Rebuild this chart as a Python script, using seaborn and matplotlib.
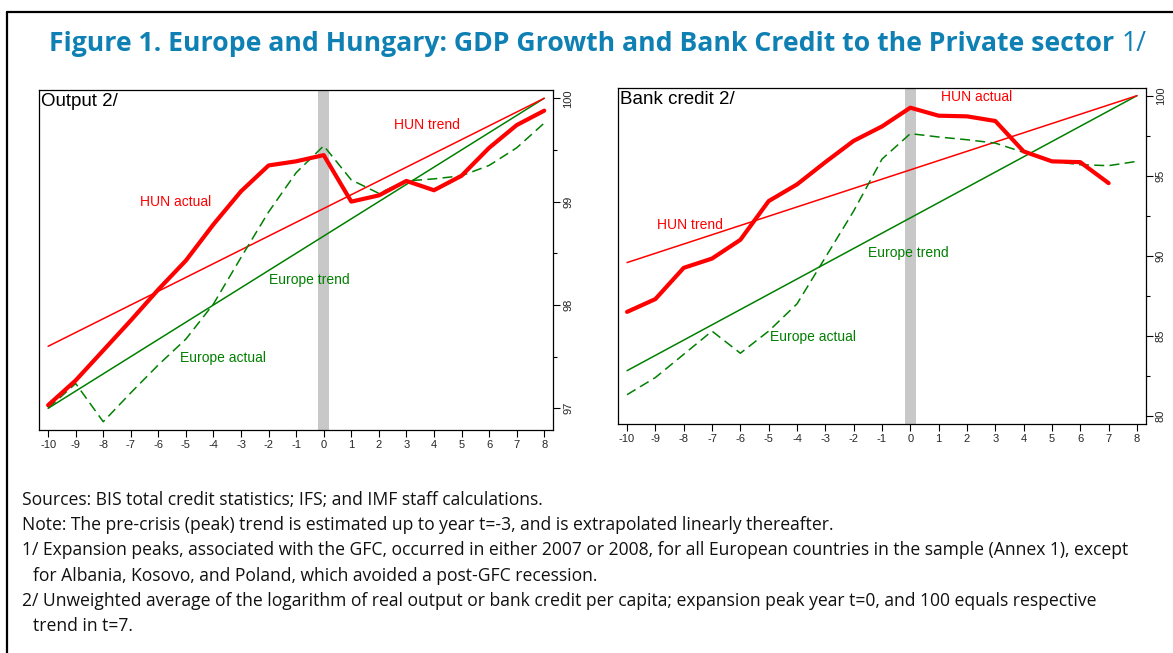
import numpy as np
import pandas as pd
import matplotlib
matplotlib.use("Agg")
import matplotlib.pyplot as plt
import seaborn as sns
from matplotlib.ticker import MultipleLocator, FixedLocator
from matplotlib.lines import Line2D

# ---------------- data ----------------
t = list(range(-10, 9))
trend_t = [-10, 8]

# Output 2/
out_hun_actual = [97.03, 97.27, 97.56, 97.85, 98.15, 98.43, 98.78, 99.10, 99.35, 99.39,
                  99.45, 99.00, 99.06, 99.20, 99.11, 99.25, 99.52, 99.74, 99.88]
out_eur_actual = [97.00, 97.24, 96.87, 97.15, 97.42, 97.67, 98.01, 98.46, 98.90, 99.28,
                  99.54, 99.21, 99.08, 99.20, 99.22, 99.25, 99.35, 99.52, 99.76]
out_hun_trend = [97.60, 100.0]
out_eur_trend = [97.00, 100.0]

# Bank credit 2/
cr_hun_actual = [86.50, 87.30, 89.25, 89.83, 91.00, 93.42, 94.46, 95.85, 97.18, 98.08,
                 99.25, 98.75, 98.71, 98.42, 96.52, 95.90, 95.85, 94.54, np.nan]
cr_eur_actual = [81.33, 82.40, 83.85, 85.30, 83.92, 85.30, 87.00, 89.90, 92.80, 96.04,
                 97.63, 97.42, 97.25, 97.04, 96.46, 95.90, 95.69, 95.63, 95.90]
cr_hun_trend = [89.58, 100.0]
cr_eur_trend = [82.83, 100.0]

out_yticks = [97, 98, 99, 100]
cr_yticks = [80, 85, 90, 95, 100]

title_bold = "Figure 1. Europe and Hungary: GDP Growth and Bank Credit to the Private sector"
title_tail = "1/"
panel_titles = ["Output 2/", "Bank credit 2/"]
footnotes = [
    ("Sources: BIS total credit statistics; IFS; and IMF staff calculations.", 0),
    ("Note: The pre-crisis (peak) trend is estimated up to year t=-3, and is extrapolated linearly thereafter.", 0),
    ("1/ Expansion peaks, associated with the GFC, occurred in either 2007 or 2008, for all European countries in the sample (Annex 1), except", 0),
    ("for Albania, Kosovo, and Poland, which avoided a post-GFC recession.", 1),
    ("2/ Unweighted average of the logarithm of real output or bank credit per capita; expansion peak year t=0, and 100 equals respective", 0),
    ("trend in t=7.", 1),
]

RED = "#ff0000"
GREEN = "#008000"
BLUE = "#0e80b3"
BAND = "#c8c8c8"

# ---------------- style ----------------
sns.set_style("white")
plt.rcParams['font.family'] = ['Liberation Sans', 'DejaVu Sans']
plt.rcParams['axes.unicode_minus'] = False

W, H = 1173, 653
fig = plt.figure(figsize=(W / 100, H / 100), dpi=100)


def px_axes(x0, y0, x1, y1):
    return fig.add_axes([x0 / W, 1 - y1 / H, (x1 - x0) / W, (y1 - y0) / H])


ax1 = px_axes(39.3, 90, 553.3, 430)
ax2 = px_axes(617.7, 88, 1146, 424)


def panel(ax, hun, eur, hun_tr, eur_tr, xlim, ylim, yt, minor, title, labels):
    ax.axvspan(-0.19, 0.19, color=BAND, lw=0, zorder=0)
    df = pd.DataFrame({"t": t, "hun": hun, "eur": eur})
    dft = pd.DataFrame({"t": trend_t, "hun": hun_tr, "eur": eur_tr})
    sns.lineplot(data=dft, x="t", y="eur", ax=ax, color=GREEN, lw=1.1, estimator=None)
    sns.lineplot(data=dft, x="t", y="hun", ax=ax, color=RED, lw=1.1, estimator=None)
    sns.lineplot(data=df, x="t", y="eur", ax=ax, color=GREEN, lw=1.1, estimator=None,
                 linestyle="--")
    ax.lines[-1].set_dashes([6.5, 3.5])
    sns.lineplot(data=df.dropna(subset=["hun"]), x="t", y="hun", ax=ax, color=RED,
                 lw=3.0, estimator=None)
    ax.set_xlim(*xlim)
    ax.set_ylim(*ylim)
    ax.set_xlabel("")
    ax.set_ylabel("")
    ax.xaxis.set_major_locator(MultipleLocator(1))
    ax.yaxis.tick_right()
    ax.set_yticks(yt)
    ax.set_yticklabels([str(v) for v in yt], rotation=90, va="center", ha="left")
    ax.yaxis.set_minor_locator(FixedLocator(minor))
    ax.tick_params(axis="y", which="both", direction="out", right=True, left=False,
                   labelright=True, labelleft=False, width=0.8, color="black")
    ax.tick_params(axis="y", which="major", length=5, labelsize=8, pad=2)
    ax.tick_params(axis="y", which="minor", length=3)
    ax.tick_params(axis="x", which="major", direction="out", bottom=True, length=5,
                   width=0.8, labelsize=8, pad=2, color="black")
    for s in ax.spines.values():
        s.set_visible(True)
        s.set_color("black")
        s.set_linewidth(0.9)
    ax.text(0.004, 0.99, title, transform=ax.transAxes, ha="left", va="top",
            fontsize=13.5, color="black")
    for txt, x, y, c in labels:
        ax.text(x, y, txt, color=c, fontsize=10, ha="left", va="center")


panel(ax1, out_hun_actual, out_eur_actual, out_hun_trend, out_eur_trend,
      (-10.32, 8.33), (96.79, 100.08), out_yticks, [97.5, 98.5, 99.5], panel_titles[0],
      [("HUN trend", 2.56, 99.74, RED), ("HUN actual", -6.68, 99.0, RED),
       ("Europe trend", -2.0, 98.24, GREEN), ("Europe actual", -5.22, 97.49, GREEN)])

panel(ax2, cr_hun_actual, cr_eur_actual, cr_hun_trend, cr_eur_trend,
      (-10.33, 8.32), (79.5, 100.48), cr_yticks, [82.5, 87.5, 92.5, 97.5], panel_titles[1],
      [("HUN actual", 1.07, 99.94, RED), ("HUN trend", -8.94, 91.9, RED),
       ("Europe trend", -1.5, 90.19, GREEN), ("Europe actual", -4.94, 84.94, GREEN)])

# ---------------- frame ----------------
fig.add_artist(Line2D([7 / W, 1.0], [1 - 12 / H, 1 - 12 / H], transform=fig.transFigure,
                      color="black", lw=1.6))
fig.add_artist(Line2D([7 / W, 7 / W], [1 - 12 / H, 0.0], transform=fig.transFigure,
                      color="black", lw=1.6))

# ---------------- title (fit width) ----------------
TF = ["Open Sans", "DejaVu Sans"]
fs = 19
TY = 51
tb = fig.text(49 / W, 1 - TY / H, title_bold, fontsize=fs, fontweight="bold", color=BLUE,
              family=TF, ha="left", va="baseline")
tn = fig.text(0, 1 - TY / H, title_tail, fontsize=fs, color=BLUE, family=TF,
              ha="left", va="baseline")
fig.canvas.draw()
r = fig.canvas.get_renderer()
wb = tb.get_window_extent(r).width
wn = tn.get_window_extent(r).width
gap = 0.27 * fs * 100 / 72
fs = fs * (1144 - 49) / (wb + gap + wn)
tb.set_fontsize(fs)
tn.set_fontsize(fs)
fig.canvas.draw()
wb = tb.get_window_extent(r).width
gap = 0.27 * fs * 100 / 72
tn.set_x((49 + wb + gap) / W)

# ---------------- footnotes (fit width) ----------------
FF = ["Open Sans", "DejaVu Sans"]
ffs = 10.5
probe = fig.text(0, 0, footnotes[2][0], fontsize=ffs, family=FF)
fig.canvas.draw()
pw = probe.get_window_extent(r).width
probe.remove()
ffs = ffs * (1135 - 22) / pw
for i, (txt, ind) in enumerate(footnotes):
    x = 22 if ind == 0 else 33
    y = 505 + 25.2 * i
    fig.text(x / W, 1 - y / H, txt, fontsize=ffs, family=FF, color="#111111",
             ha="left", va="baseline")

fig.savefig("out.png", dpi=100)
